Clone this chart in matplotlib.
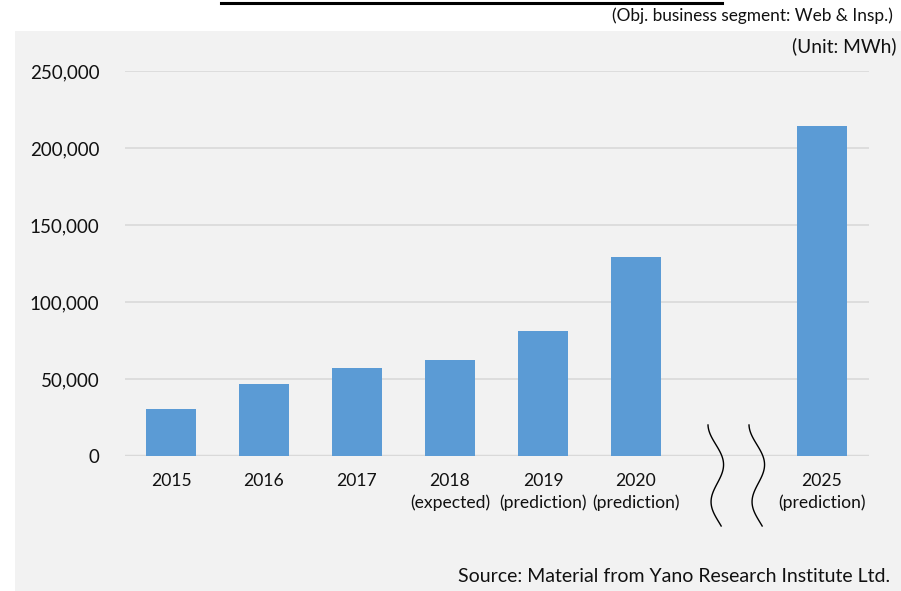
import matplotlib.pyplot as plt
import numpy as np
from matplotlib.patches import Rectangle
from matplotlib.lines import Line2D

plt.rcParams['font.family'] = ['Lato', 'DejaVu Sans']

# categories (an empty slot sits between 2020 and 2025 for the axis break)
years = ['2015', '2016', '2017', '2018\n(expected)', '2019\n(prediction)',
         '2020\n(prediction)', '', '2025\n(prediction)']
values = [30500, 46800, 57200, 62300, 81200, 129200, None, 214500]
yticks = [0, 50000, 100000, 150000, 200000, 250000]

bar_color = '#5b9bd5'
panel_color = '#f2f2f2'
grid_color = '#d9d9d9'

fig = plt.figure(figsize=(9.01, 5.91), dpi=100)

# gray panel behind the chart
fig.add_artist(Rectangle((15 / 901, 0), 1 - 15 / 901, 1 - 31 / 591,
                         transform=fig.transFigure, facecolor=panel_color,
                         edgecolor='none', zorder=-10))

ax = fig.add_axes([124.5 / 901, 1 - 456 / 591, 744 / 901, 385 / 591])
ax.set_facecolor('none')

x = np.arange(len(years))
for xi, v in zip(x, values):
    if v is not None:
        ax.bar(xi, v, width=0.53, color=bar_color, zorder=3)

ax.set_xlim(-0.5, len(years) - 0.5)
ax.set_ylim(0, 250000)
ax.set_yticks(yticks)
ax.set_yticklabels([f'{t:,}' for t in yticks], fontsize=13.5, color='#111111')
ax.set_xticks(x)
ax.set_xticklabels(years, fontsize=12.6, color='#111111', linespacing=1.45)
ax.tick_params(axis='both', length=0)
ax.tick_params(axis='y', pad=18)
ax.tick_params(axis='x', pad=12)

ax.grid(axis='y', color=grid_color, linewidth=1.2, zorder=0)
ax.axhline(0, color=grid_color, linewidth=2.5, zorder=2)
for s in ax.spines.values():
    s.set_visible(False)

# axis break squiggles
t = np.linspace(0, 1, 120)
for x0 in (715, 756):
    xs = x0 + 4 * t + 7 * np.sin(2 * np.pi * 1.3 * t - np.pi / 2)
    ys = 425 + 101 * t
    fig.add_artist(Line2D(xs / 901, 1 - ys / 591, color='black',
                          linewidth=1.0, transform=fig.transFigure))

# top rule and annotations
fig.add_artist(Line2D([221 / 901, 722 / 901], [1 - 2.5 / 591, 1 - 2.5 / 591],
                      color='black', linewidth=2.2, transform=fig.transFigure))
fig.text(893 / 901, 1 - 16 / 591, '(Obj. business segment: Web & Insp.)',
         ha='right', va='center', fontsize=12.4, color='#111111')
fig.text(896 / 901, 1 - 46 / 591, '(Unit: MWh)',
         ha='right', va='center', fontsize=13.8, color='#111111')
fig.text(890 / 901, 1 - 577 / 591, 'Source: Material from Yano Research Institute Ltd.',
         ha='right', va='center', fontsize=14, color='#111111')

fig.savefig('out.png', dpi=100)
